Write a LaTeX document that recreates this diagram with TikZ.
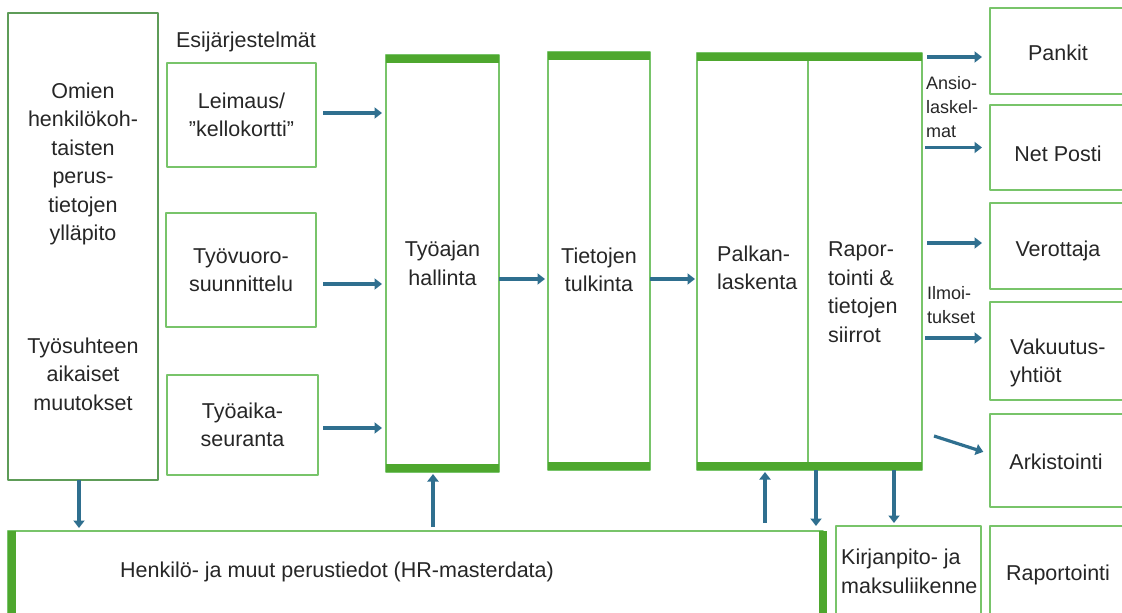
\documentclass[tikz,border=0pt]{standalone}
\usepackage{fontspec}
\setmainfont{Liberation Sans}
\usetikzlibrary{arrows.meta}
\definecolor{framegreen}{HTML}{78C46A}
\definecolor{darkframe}{HTML}{5E9C58}
\definecolor{bargreen}{HTML}{4EA72E}
\definecolor{flowblue}{HTML}{2F6F8F}
\definecolor{inkgray}{HTML}{262626}
\tikzset{
  box/.style={draw=framegreen,line width=1.5pt,inner sep=0pt,outer sep=0pt,anchor=north west},
  lbl/.style={text=inkgray,inner sep=0pt,font=\fontsize{21.5}{28.5}\selectfont,align=center},
  small/.style={text=inkgray,inner sep=0pt,font=\fontsize{18}{24}\selectfont,align=left,anchor=west},
  flow/.style={draw=flowblue,line width=3.2pt,-{Triangle[width=11pt,length=7.5pt]}}
}
\begin{document}
\begin{tikzpicture}[x=1pt,y=-1pt,line join=round]
  \useasboundingbox (0,0) rectangle (1122,613);
  \clip (0,0) rectangle (1122,613);
  % left column
  \node[box,draw=darkframe,minimum width=150pt,minimum height=467pt] (omien) at (8,13) {};
  \node[lbl] (perus) at (83,164) {Omien\\henkilökoh-\\taisten\\perus-\\tietojen\\ylläpito};
  \node[lbl] (muutos) at (83,374) {Työsuhteen\\aikaiset\\muutokset};
  % esijärjestelmät
  \node[lbl] (esi) at (246,42) {Esijärjestelmät};
  \node[box,lbl,minimum width=149pt,minimum height=104pt] (leimaus) at (167,63) {Leimaus/\\”kellokortti”};
  \node[box,lbl,minimum width=150pt,minimum height=114pt] (vuoro) at (166,213) {Työvuoro-\\suunnittelu};
  \node[box,lbl,minimum width=151pt,minimum height=100pt] (seuranta) at (167,375) {Työaika-\\seuranta};
  % processing columns
  \node[box,lbl,minimum width=113pt,minimum height=417pt] (hallinta) at (386,55) {Työajan\\hallinta};
  \node[box,minimum width=102pt,minimum height=418pt] (tulkinta) at (548,52) {};
  \node[lbl] (tulkintateksti) at (599,270) {Tietojen\\tulkinta};
  \node[box,minimum width=225pt,minimum height=417pt] (palkka) at (697,53) {};
  \coordinate (jakoylä) at (808,53);
  \coordinate (jakoala) at (808,470);
  \draw[draw=framegreen,line width=1.5pt] (jakoylä) -- (jakoala);
  \node[lbl,align=left,anchor=west] (laskenta) at (717,268) {Palkan-\\laskenta};
  \node[lbl,align=left,anchor=west] (siirrot) at (828,292) {Rapor-\\tointi \&\\tietojen\\siirrot};
  \foreach \c in {hallinta,tulkinta,palkka}{
    \fill[bargreen] (\c.north west) rectangle ([yshift=-8pt]\c.north east);
    \fill[bargreen] ([yshift=8pt]\c.south west) rectangle (\c.south east);
  }
  % receivers
  \node[box,minimum width=136pt,minimum height=86pt] (pankit) at (990,8) {};
  \node[box,minimum width=136pt,minimum height=85pt] (netposti) at (990,105) {};
  \node[box,minimum width=136pt,minimum height=86pt] (verottaja) at (990,203) {};
  \node[box,minimum width=136pt,minimum height=98pt] (vakuutus) at (990,302) {};
  \node[box,minimum width=136pt,minimum height=93pt] (arkisto) at (990,414) {};
  \node[box,minimum width=136pt,minimum height=120pt] (raportti) at (990,526) {};
  \node[lbl] (pankitteksti) at (1058,53) {Pankit};
  \node[lbl] (netpostiteksti) at (1058,154) {Net Posti};
  \node[lbl] (verottajateksti) at (1058,251) {Verottaja};
  \node[lbl,align=left,anchor=west] (vakuutusteksti) at (1010,363) {Vakuutus-\\yhtiöt};
  \node[lbl] (arkistoteksti) at (1056,462) {Arkistointi};
  \node[lbl] (raporttiteksti) at (1058,575) {Raportointi};
  \node[small] (ansio) at (926,107) {Ansio-\\laskel-\\mat};
  \node[small] (ilmoitus) at (927,305.5) {Ilmoi-\\tukset};
  % bottom row
  \node[box,minimum width=815pt,minimum height=120pt] (hr) at (8,531) {};
  \fill[bargreen] (hr.north west) rectangle ([xshift=8pt]hr.south west);
  \fill[bargreen] ([xshift=-4pt]hr.north east) rectangle ([xshift=4pt]hr.south east);
  \node[lbl] (hrteksti) at (337,572) {Henkilö- ja muut perustiedot (HR-masterdata)};
  \node[box,minimum width=145pt,minimum height=120pt] (kirjanpito) at (836,526) {};
  \node[lbl,align=left,anchor=west] (kirjanpitoteksti) at (841,571.5) {Kirjanpito- ja\\maksuliikenne};
  % flows into the columns
  \draw[flow,shorten <=7pt,shorten >=4pt] ([yshift=2pt]leimaus.east) -- ([yshift=2pt]leimaus.east -| hallinta.west);
  \draw[flow,shorten <=7pt,shorten >=4pt] ([yshift=-14pt]vuoro.east) -- ([yshift=-14pt]vuoro.east -| hallinta.west);
  \draw[flow,shorten <=5pt,shorten >=4pt] ([yshift=-3pt]seuranta.east) -- ([yshift=-3pt]seuranta.east -| hallinta.west);
  \draw[flow,shorten >=3pt] ([yshift=-15.5pt]hallinta.east) -- ([yshift=-15.5pt]hallinta.east -| tulkinta.west);
  \draw[flow,shorten >=2pt] ([yshift=-18pt]tulkinta.east) -- ([yshift=-18pt]tulkinta.east -| palkka.west);
  % flows out
  \draw[flow,shorten <=5pt,shorten >=8pt] ([yshift=-6pt]pankit.west -| palkka.east) -- ([yshift=-6pt]pankit.west);
  \draw[flow,shorten <=3pt,shorten >=8pt] (netposti.west -| palkka.east) -- (netposti.west);
  \draw[flow,shorten <=5pt,shorten >=8pt] ([yshift=3pt]verottaja.west -| palkka.east) -- ([yshift=3pt]verottaja.west);
  \draw[flow,shorten <=3pt,shorten >=8pt] ([yshift=13pt]vakuutus.west -| palkka.east) -- ([yshift=13pt]vakuutus.west);
  \coordinate (arkistolahto) at (934,436);
  \draw[flow,shorten >=7pt] (arkistolahto) -- ([yshift=6.5pt]arkisto.west);
  % vertical flows
  \draw[flow,shorten >=3pt] ([xshift=-4pt]omien.south) -- ([xshift=-4pt]omien.south |- hr.north);
  \draw[flow,shorten <=4pt,shorten >=2pt] ([xshift=-9.5pt]hallinta.south |- hr.north) -- ([xshift=-9.5pt]hallinta.south);
  \draw[flow,shorten <=8pt,shorten >=2pt] ([xshift=-44.5pt]palkka.south |- hr.north) -- ([xshift=-44.5pt]palkka.south);
  \draw[flow,shorten >=5pt] ([xshift=6.5pt]palkka.south) -- ([xshift=6.5pt]palkka.south |- hr.north);
  \draw[flow,shorten >=3pt] ([xshift=84.5pt]palkka.south) -- ([xshift=84.5pt]palkka.south |- kirjanpito.north);
\end{tikzpicture}
\end{document}
